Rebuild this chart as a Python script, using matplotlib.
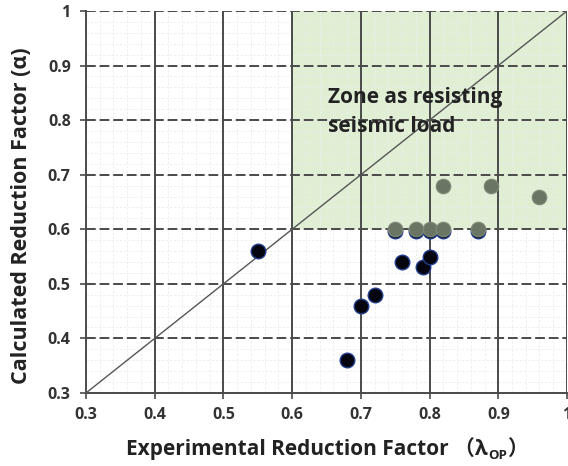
import numpy as np
import matplotlib.pyplot as plt
from matplotlib.patches import Rectangle

# experimental (lambda_op) vs calculated (alpha) reduction factors
below_x = [0.55, 0.68, 0.70, 0.72, 0.76, 0.79, 0.80, 0.75, 0.78, 0.80, 0.82, 0.87]
below_y = [0.56, 0.36, 0.46, 0.48, 0.54, 0.53, 0.55, 0.597, 0.597, 0.597, 0.597, 0.597]
zone_x = [0.75, 0.78, 0.80, 0.82, 0.87, 0.82, 0.89, 0.96]
zone_y = [0.60, 0.60, 0.60, 0.60, 0.60, 0.68, 0.68, 0.66]

major_ticks = [0.3, 0.4, 0.5, 0.6, 0.7, 0.8, 0.9, 1.0]
tick_labels = ['0.3', '0.4', '0.5', '0.6', '0.7', '0.8', '0.9', '1']

FAMS = ['Open Sans', 'Noto Sans CJK SC', 'DejaVu Sans']
plt.rcParams['font.family'] = FAMS

fig = plt.figure(figsize=(5.68, 4.66), dpi=100)
ax = fig.add_axes([0.1514, 0.1567, 0.8468, 0.8197])
ax.set_xlim(0.3, 1.0)
ax.set_ylim(0.3, 1.0)

# green zone
ax.add_patch(Rectangle((0.6, 0.6), 0.4, 0.4, facecolor='#e0efd4', edgecolor='none', zorder=0))

# minor grid
for v in np.arange(0.32, 1.0, 0.02):
    ax.axvline(v, color='#ececec', lw=0.6, ls=(0, (3, 2)), zorder=1)
    ax.axhline(v, color='#ececec', lw=0.6, ls=(0, (3, 2)), zorder=1)

# major grid: solid verticals, dashed horizontals
for v in major_ticks[1:]:
    ax.axvline(v, color='#4a4a4a', lw=1.4, zorder=2)
for v in major_ticks[1:]:
    ax.axhline(v, color='#4a4a4a', lw=1.4, ls=(0, (5, 2)), zorder=2)

ax.plot([0.3, 1.0], [0.3, 1.0], color='#555555', lw=1.0, zorder=3)

ax.scatter(below_x, below_y, s=110, color='#050510', edgecolor='#1f3b8c', linewidth=1.0, zorder=4)
ax.scatter(zone_x, zone_y, s=110, color='#6b7563', edgecolor='#7f8a78', linewidth=0.8, zorder=5)

ax.text(0.652, 0.86, 'Zone as resisting\nseismic load', fontsize=15, fontweight='bold',
        color='#222222', va='top', ha='left', linespacing=1.5, zorder=6)

ax.set_xticks(major_ticks)
ax.set_xticklabels(tick_labels)
ax.set_yticks(major_ticks)
ax.set_yticklabels(tick_labels)
ax.tick_params(labelsize=11.5, colors='#4a4a4a', length=4, width=1.2)
ax.tick_params(axis='x', pad=6)
ax.tick_params(axis='y', pad=7)
for lab in ax.get_xticklabels() + ax.get_yticklabels():
    lab.set_fontweight('bold')
    lab.set_color('#333333')

for side in ['left', 'bottom']:
    ax.spines[side].set_color('#4a4a4a')
    ax.spines[side].set_linewidth(1.4)
ax.spines['top'].set_visible(False)
ax.spines['right'].set_visible(False)

ax.set_ylabel('Calculated Reduction Factor (α)', fontsize=15.5, fontweight='bold',
              color='#222222')
ax.yaxis.set_label_coords(-0.112, 0.463)

# x label built from pieces: main text, subscript "OP", closing bracket
fig.canvas.draw()
r = fig.canvas.get_renderer()
base_y = 1 - 455 / 466
parts = [('Experimental Reduction Factor （λ', 15, 0),
         ('OP', 9.5, -4),
         ('）', 15, 0)]
texts = []
for s, fs, dy in parts:
    t = fig.text(0, base_y + dy / 466, s, fontsize=fs, fontweight='bold',
                 color='#222222', family=FAMS, va='baseline', ha='left')
    texts.append(t)
widths = [t.get_window_extent(r).width for t in texts]
x0 = 327 - sum(widths) / 2
for t, w in zip(texts, widths):
    t.set_x(x0 / 568)
    x0 += w

fig.savefig('out.png', dpi=100)
